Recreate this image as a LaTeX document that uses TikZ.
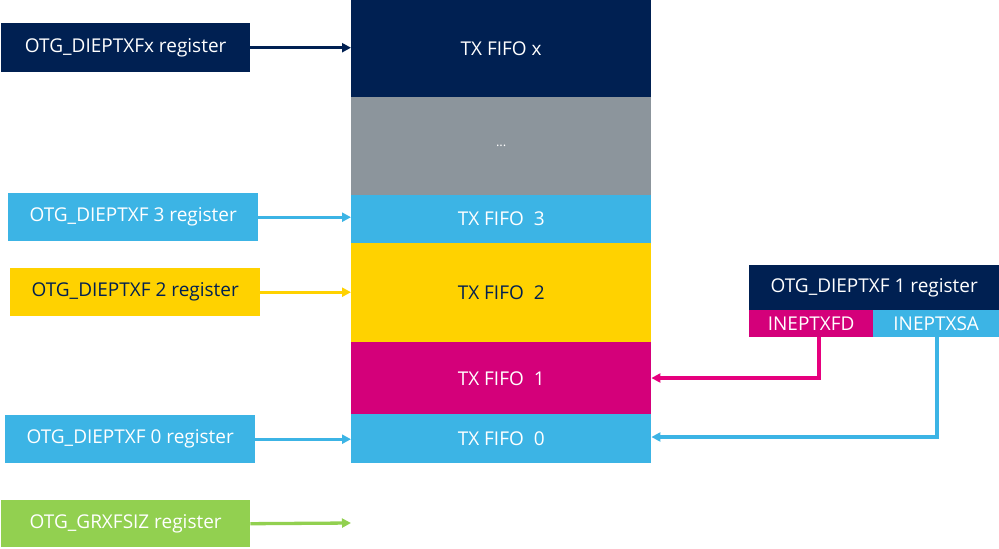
\documentclass[tikz,border=0pt]{standalone}
\usepackage{fontspec}
\setmainfont{Open Sans}
\usetikzlibrary{arrows.meta}
\definecolor{navy}{HTML}{002052}
\definecolor{sblue}{HTML}{3CB4E5}
\definecolor{syellow}{HTML}{FFD200}
\definecolor{smag}{HTML}{D4007A}
\definecolor{spink}{HTML}{E6007E}
\definecolor{sgrey}{HTML}{8C959C}
\definecolor{sgreen}{HTML}{92D050}
\begin{document}
\begin{tikzpicture}[x=1pt,y=-1pt,
  box/.style={inner sep=0pt,minimum width=#1,anchor=north west,font=\fontsize{19}{22}\selectfont},
  conn/.style={line width=3.3pt,-{Triangle[length=9pt,width=9pt]}}]
\useasboundingbox (0,0) rectangle (999,549);
% FIFO column
\node[box=300pt,minimum height=97pt,fill=navy,text=white] (fx) at (351,0) {TX FIFO x};
\node[box=300pt,minimum height=98pt,fill=sgrey,text=white,font=\fontsize{13}{14}\selectfont] (fd) at (351,97) {...};
\node[box=300pt,minimum height=48pt,fill=sblue,text=white] (f3) at (351,195) {TX FIFO\ \ 3};
\node[box=300pt,minimum height=99pt,fill=syellow,text=navy] (f2) at (351,243) {TX FIFO\ \ 2};
\node[box=300pt,minimum height=72pt,fill=smag,text=white] (f1) at (351,342) {TX FIFO\ \ 1};
\node[box=300pt,minimum height=49pt,fill=sblue,text=white] (f0) at (351,414) {TX FIFO\ \ 0};
% left registers
\node[box=249pt,minimum height=49pt,fill=navy,text=white] (rx) at (1,23) {OTG\_DIEPTXFx register};
\node[box=250pt,minimum height=48pt,fill=sblue,text=white] (r3) at (8,193) {OTG\_DIEPTXF 3 register};
\node[box=250pt,minimum height=48pt,fill=syellow,text=navy] (r2) at (10,268) {OTG\_DIEPTXF 2 register};
\node[box=250pt,minimum height=48pt,fill=sblue,text=white] (r0) at (5,415) {OTG\_DIEPTXF 0 register};
\node[box=249pt,minimum height=47pt,fill=sgreen,text=white] (rg) at (1,500) {OTG\_GRXFSIZ register};
% right register
\node[box=250pt,minimum height=45pt,fill=navy,text=white] (r1) at (749,265) {OTG\_DIEPTXF 1 register};
\node[box=124pt,minimum height=27pt,fill=smag,text=white] (fd1) at (749,310) {INEPTXFD};
\node[box=126pt,minimum height=27pt,fill=sblue,text=white] (sa1) at (873,310) {INEPTXSA};
\coordinate (gend) at (351,523);
\coordinate (fdtop) at (819,337);
\coordinate (fdbend) at (819,378);
\coordinate (satop) at (937,337);
\coordinate (sabend) at (937,437);
% connectors
\draw[conn,navy] (rx.east) -- (rx.east -| fx.west);
\draw[conn,sblue] (r3.east) -- (r3.east -| f3.west);
\draw[conn,syellow] (r2.east) -- (r2.east -| f2.west);
\draw[conn,sblue] (r0.east) -- (r0.east -| f0.west);
\draw[conn,sgreen] (rg.east) -- (gend);
\draw[conn,spink] (fdtop) -- (fdbend) -- (fdbend -| f1.east);
\draw[conn,sblue] (satop) -- (sabend) -- (sabend -| f0.east);
\end{tikzpicture}
\end{document}
